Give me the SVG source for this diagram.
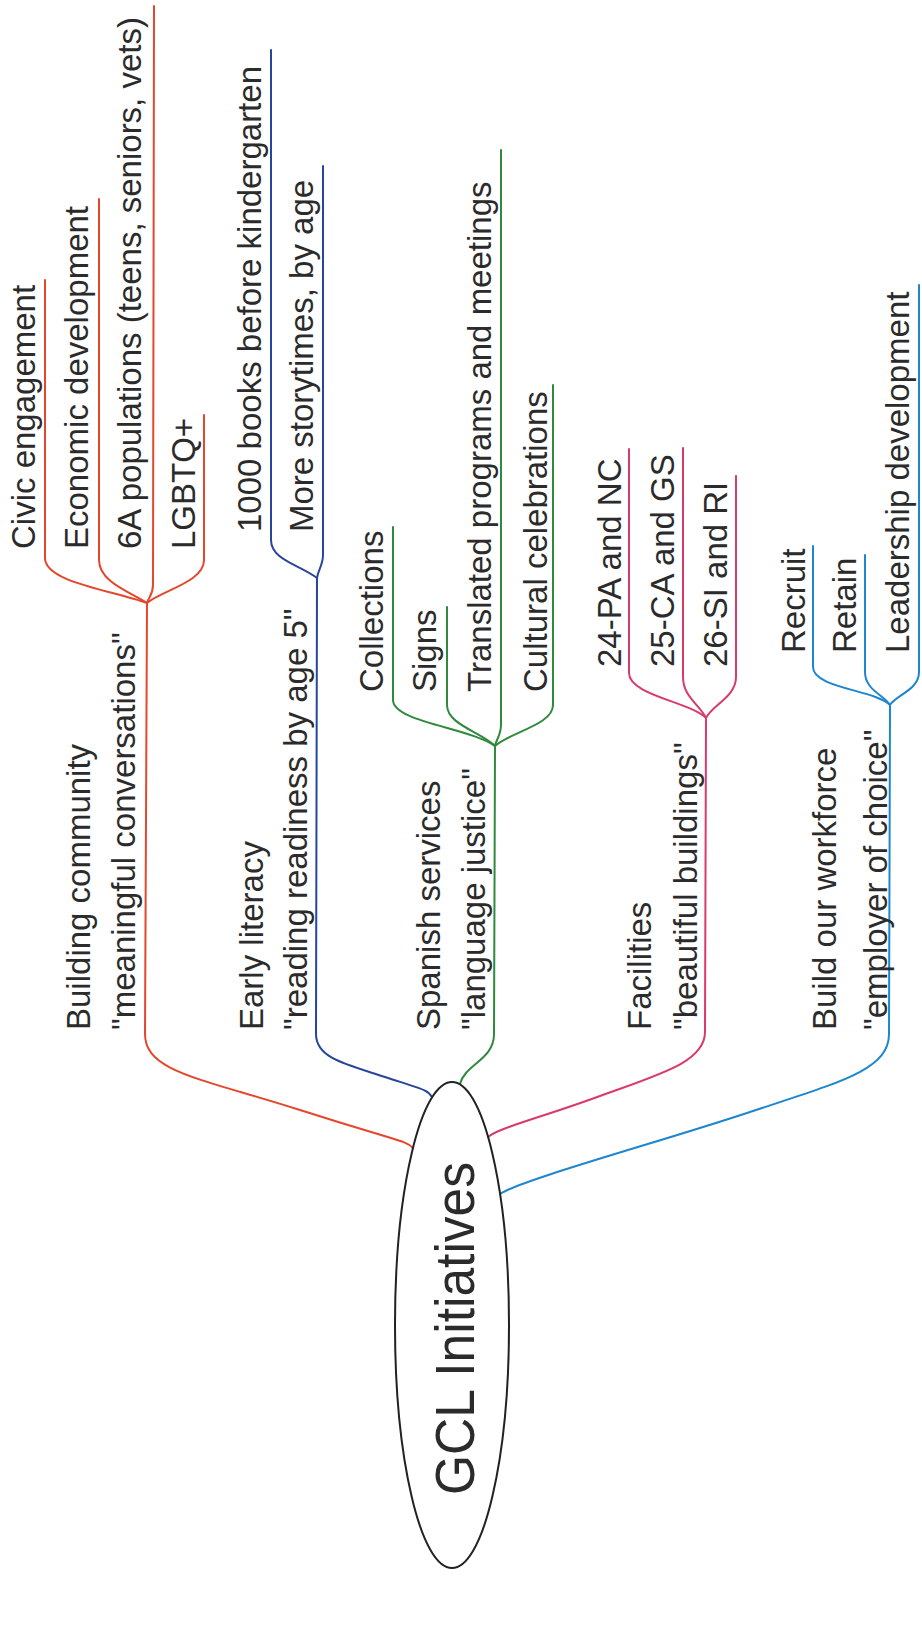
<svg xmlns="http://www.w3.org/2000/svg" width="922" height="1648" viewBox="0 0 922 1648">
<style>
text{font-family:"Liberation Sans",Arial,sans-serif;font-size:33px;fill:#2b2b2b}
.c{fill:none;stroke-width:2;stroke-linecap:round}
.red{stroke:#e4472b}.navy{stroke:#26469c}.green{stroke:#2f8a3c}.pink{stroke:#d93a6c}.sky{stroke:#1d86cf}
.title{font-size:56px}
</style>
<rect width="922" height="1648" fill="#fff"/>
<g id="connectors">
<path class="c red" d="M45,280 L45,558 C45,582 110,590 147,603"/>
<path class="c red" d="M99,199 L99,560 C99,582 130,592 147,603"/>
<path class="c red" d="M154,6 L153,585 C153,595 148,598 147,603"/>
<path class="c red" d="M204,415 L204,560 C204,582 163,590 147,603"/>
<path class="c red" d="M147,603 L145,1034 C145,1072 200,1078 300,1110 S405,1140 413,1148"/>
<path class="c navy" d="M271,50 L271,540 C271,560 300,565 317,578"/>
<path class="c navy" d="M323,166 L323,555 C323,565 318,570 317,578"/>
<path class="c navy" d="M317,578 L316,1034 C316,1058 345,1064 385,1077 S428,1090 432,1097"/>
<path class="c green" d="M393,527 L393,700 C393,722 470,728 495,746"/>
<path class="c green" d="M447,607 L447,705 C447,725 482,732 495,746"/>
<path class="c green" d="M501,150 L501,725 C501,735 496,740 495,746"/>
<path class="c green" d="M553,385 L553,705 C553,725 510,732 495,746"/>
<path class="c green" d="M495,746 L494,1034 C494,1060 465,1064 460,1084"/>
<path class="c pink" d="M629,449 L629,673 C629,695 690,702 706,718"/>
<path class="c pink" d="M683,448 L683,677 C683,697 700,705 706,718"/>
<path class="c pink" d="M736,476 L736,677 C736,697 712,705 706,718"/>
<path class="c pink" d="M706,718 L705,1032 C705,1062 660,1074 600,1096 S498,1128 488,1137"/>
<path class="c sky" d="M813,546 L813,667 C813,688 875,690 890,705"/>
<path class="c sky" d="M865,555 L865,672 C865,690 884,695 890,705"/>
<path class="c sky" d="M919,285 L919,672 C919,690 896,695 890,705"/>
<path class="c sky" d="M890,705 L889,1034 C889,1070 840,1082 750,1112 S520,1180 500,1194"/>
</g>
<g id="root">
<ellipse cx="452" cy="1325" rx="57" ry="243" fill="none" stroke="#222" stroke-width="2"/>
<text class="title" transform="translate(474,1495) rotate(-90)" textLength="333" lengthAdjust="spacingAndGlyphs">GCL Initiatives</text>
</g>
<g id="building-community">
<text transform="translate(90,1030) rotate(-90)">Building community</text>
<text transform="translate(135,1030) rotate(-90)">"meaningful conversations"</text>
</g>
<g id="civic-engagement"><text transform="translate(35,549) rotate(-90)">Civic engagement</text></g>
<g id="economic-development"><text transform="translate(88,549) rotate(-90)">Economic development</text></g>
<g id="6a-populations"><text transform="translate(141,549) rotate(-90)">6A populations (teens, seniors, vets)</text></g>
<g id="lgbtq"><text transform="translate(195,549) rotate(-90)">LGBTQ+</text></g>
<g id="early-literacy">
<text transform="translate(263,1030) rotate(-90)">Early literacy</text>
<text transform="translate(307,1030) rotate(-90)">"reading readiness by age 5"</text>
</g>
<g id="1000-books"><text transform="translate(261,532) rotate(-90)">1000 books before kindergarten</text></g>
<g id="storytimes"><text transform="translate(313,532) rotate(-90)">More storytimes, by age</text></g>
<g id="spanish-services">
<text transform="translate(440,1030) rotate(-90)">Spanish services</text>
<text transform="translate(485,1030) rotate(-90)">"language justice"</text>
</g>
<g id="collections"><text transform="translate(383,692) rotate(-90)">Collections</text></g>
<g id="signs"><text transform="translate(436,692) rotate(-90)">Signs</text></g>
<g id="translated"><text transform="translate(491,692) rotate(-90)">Translated programs and meetings</text></g>
<g id="cultural"><text transform="translate(547,692) rotate(-90)">Cultural celebrations</text></g>
<g id="facilities">
<text transform="translate(651,1030) rotate(-90)">Facilities</text>
<text transform="translate(697,1030) rotate(-90)">"beautiful buildings"</text>
</g>
<g id="pa-nc"><text transform="translate(621,667) rotate(-90)">24-PA and NC</text></g>
<g id="ca-gs"><text transform="translate(674,667) rotate(-90)">25-CA and GS</text></g>
<g id="si-ri"><text transform="translate(727,667) rotate(-90)">26-SI and RI</text></g>
<g id="workforce">
<text transform="translate(836,1030) rotate(-90)">Build our workforce</text>
<text transform="translate(887,1030) rotate(-90)">"employer of choice"</text>
</g>
<g id="recruit"><text transform="translate(805,653) rotate(-90)">Recruit</text></g>
<g id="retain"><text transform="translate(856,653) rotate(-90)">Retain</text></g>
<g id="leadership"><text transform="translate(909,653) rotate(-90)">Leadership development</text></g>
</svg>
